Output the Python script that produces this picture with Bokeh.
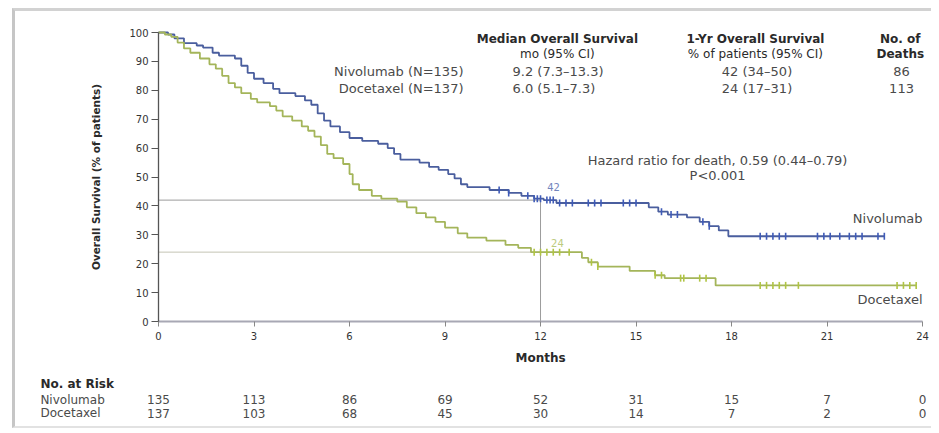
import numpy as np
from bokeh.plotting import figure
from bokeh.models import FixedTicker, Range1d
from bokeh.layouts import column
from bokeh.embed import file_html
from bokeh.resources import INLINE
from bokeh.core.properties import value

# ---------------- data ----------------
month_ticks = [0, 3, 6, 9, 12, 15, 18, 21, 24]
pct_ticks = [0, 10, 20, 30, 40, 50, 60, 70, 80, 90, 100]

nivo_t = [0, 0.3, 0.5, 0.8, 1.2, 1.4, 1.7, 1.9, 2.4, 2.6, 2.8, 3.0, 3.3, 3.6, 3.8, 4.3, 4.6, 4.8,
          5.0, 5.2, 5.4, 5.7, 6.0, 6.4, 6.9, 7.2, 7.4, 7.6, 8.2, 8.5, 8.8, 9.1, 9.3, 9.5, 9.7,
          10.4, 11.0, 11.4, 11.8, 12.1, 12.5, 15.4, 15.7, 16.0, 16.6, 17.0, 17.3, 17.6, 17.9]
nivo_s = [100, 99.3, 98, 96.3, 95.5, 94.8, 93, 92, 91, 88.5, 86, 84, 82.5, 80.5, 79, 78, 76.5, 75,
          72, 69.5, 67.5, 65.5, 63.5, 62.5, 61.5, 60, 58, 56, 55, 53.5, 52.5, 51, 49.5, 47.5, 46.5,
          45.5, 44.5, 43.5, 42.5, 42, 41, 39.5, 38, 37, 36, 34.5, 33, 31.5, 29.5]
nivo_end = 22.8

doce_t = [0, 0.2, 0.4, 0.6, 0.8, 1.0, 1.3, 1.6, 1.8, 2.0, 2.2, 2.4, 2.6, 2.9, 3.1, 3.5, 3.7, 3.9,
          4.2, 4.5, 4.7, 4.9, 5.1, 5.3, 5.5, 5.8, 6.0, 6.1, 6.3, 6.7, 7.0, 7.5, 7.8, 8.1, 8.4, 8.7,
          9.0, 9.4, 9.7, 10.3, 10.9, 11.3, 11.7, 13.3, 13.5, 13.8, 14.8, 15.6, 15.9, 17.5]
doce_s = [100, 99.3, 98.5, 96.5, 94.5, 93, 91, 89, 87.5, 85, 82.5, 81, 79, 77, 75.8, 74.5, 73, 71,
          69.5, 67.5, 66, 64, 61, 58, 56.5, 54.5, 51, 47.5, 45.5, 43.5, 42.5, 41.5, 39.5, 37.5, 36, 34.5,
          32.5, 30.5, 29, 28, 26.5, 25.5, 24, 22, 20.5, 19, 17.5, 16, 15, 12.5]
doce_end = 23.8

nivo_cens = [10.7, 11.0, 11.6, 11.8, 11.9, 12.0, 12.2, 12.3, 12.4, 12.6, 12.8, 13.0, 13.5, 13.7,
             13.9, 14.6, 14.8, 15.0, 15.8, 16.1, 16.3, 17.1, 17.3, 18.9, 19.1, 19.3, 19.5, 19.7,
             20.7, 20.9, 21.1, 21.4, 21.7, 21.9, 22.1, 22.6, 22.8]
doce_cens = [11.8, 12.0, 12.2, 12.4, 12.6, 12.9, 13.6, 13.8, 15.6, 15.8, 16.4, 16.5, 17.0, 17.2,
             18.9, 19.1, 19.3, 19.5, 19.7, 20.1, 23.2, 23.4, 23.6, 23.8]

landmark_month = 12
nivo_1yr = 42
doce_1yr = 24

risk_nivo = [135, 113, 86, 69, 52, 31, 15, 7, 0]
risk_doce = [137, 103, 68, 45, 30, 14, 7, 2, 0]

groups = ["Nivolumab (N=135)", "Docetaxel (N=137)"]
median_os = ["9.2 (7.3\u201313.3)", "6.0 (5.1\u20137.3)"]
one_yr_os = ["42 (34\u201350)", "24 (17\u201331)"]
deaths = ["86", "113"]
hr_text = ["Hazard ratio for death, 0.59 (0.44\u20130.79)", "P<0.001"]

# ---------------- style / layout ----------------
FONT = value("DejaVu Sans")
NIVO = "#4a5e9e"
NIVO_T = "#3f5bb8"
DOCE = "#a4b55a"
DOCE_T = "#b0c443"
TXT = "#2a2a2a"
TXT2 = "#4a4a4a"

W, H = 916, 415
X0_PX, Y0_PX = 143, 310     # canvas position of (0 months, 0 %)
PPM, PPP = 31.835, 2.89     # pixels per month, pixels per percent

def step_at(ts, ss, c):
    i = int(np.searchsorted(np.array(ts), c, side="right")) - 1
    return ss[i]

p = figure(width=W, height=H,
           x_range=Range1d(-X0_PX / PPM, (W - X0_PX) / PPM),
           y_range=Range1d(-(H - Y0_PX) / PPP, Y0_PX / PPP),
           output_backend="svg", toolbar_location=None,
           min_border_left=0, min_border_right=0, min_border_top=0, min_border_bottom=0)
p.outline_line_color = None
p.xgrid.visible = False
p.ygrid.visible = False

# reference lines at 1 year
p.line([0, landmark_month], [nivo_1yr, nivo_1yr], line_color="#9c9c9c", line_width=1)
p.line([0, landmark_month], [doce_1yr, doce_1yr], line_color="#c4c4b4", line_width=1)
p.line([landmark_month, landmark_month], [0, nivo_1yr], line_color="#9c9c9c", line_width=1)

# curves
p.step(nivo_t + [nivo_end], nivo_s + [nivo_s[-1]], mode="after", line_color=NIVO, line_width=1.8)
p.step(doce_t + [doce_end], doce_s + [doce_s[-1]], mode="after", line_color=DOCE, line_width=1.8)

p.scatter(nivo_cens, [step_at(nivo_t, nivo_s, c) for c in nivo_cens], marker="dash",
          angle=np.pi / 2, size=7, line_color=NIVO_T, line_width=1.6)
p.scatter(doce_cens, [step_at(doce_t, doce_s, c) for c in doce_cens], marker="dash",
          angle=np.pi / 2, size=7, line_color=DOCE_T, line_width=1.6)

# axes, pinned at the data origin
p.xaxis.fixed_location = 0
p.yaxis.fixed_location = 0
p.xaxis.ticker = FixedTicker(ticks=month_ticks)
p.yaxis.ticker = FixedTicker(ticks=pct_ticks)
p.xaxis.bounds = (0, 24)
p.yaxis.bounds = (0, 100)
for ax in (p.xaxis[0], p.yaxis[0]):
    ax.minor_tick_line_color = None
    ax.major_tick_in = 0
    ax.major_label_text_font = "DejaVu Sans"
    ax.major_label_text_font_size = "10px"
    ax.major_label_text_color = "#333333"
p.xaxis.axis_line_color = "#a8a8b4"
p.xaxis.axis_line_width = 2
p.xaxis.major_tick_line_color = "#888888"
p.xaxis.major_tick_out = 5
p.xaxis.major_label_standoff = 5
p.yaxis.axis_line_color = "#555555"
p.yaxis.axis_line_width = 1.3
p.yaxis.major_tick_line_color = "#555555"
p.yaxis.major_tick_out = 7
p.yaxis.major_label_standoff = 3

def tx(x, y, t, align="center", bold=False, color=TXT2, size="13px", angle=0):
    p.text(x=x, y=y, text=t, text_font=FONT, text_font_size=size, text_align=align,
           text_baseline="middle", text_color=color, angle=angle,
           text_font_style="bold" if bold else "normal")

# axis titles
tx([12], [-12.8], ["Months"], bold=True, color=TXT, size="12px")
tx([-1.95], [50], ["Overall Survival (% of patients)"], bold=True, color=TXT, size="10.5px",
   angle=np.pi / 2)

# header table
ROW_Y = [86.5, 80.6]
tx([12.53], [97.9], ["Median Overall Survival"], bold=True, color=TXT, size="12px")
tx([12.53], [92.4], ["mo (95% CI)"], color=TXT, size="12px")
tx([18.75], [97.9], ["1-Yr Overall Survival"], bold=True, color=TXT, size="12px")
tx([18.75], [92.4], ["% of patients (95% CI)"], color=TXT, size="12px")
tx([23.3, 23.3], [97.9, 92.4], ["No. of", "Deaths"], bold=True, color=TXT, size="12px")
tx([9.58, 9.58], ROW_Y, groups, align="right")
tx([11.12, 11.12], ROW_Y, median_os, align="left")
tx([18.8, 18.8], ROW_Y, one_yr_os)
tx([23.34, 23.34], ROW_Y, deaths)
tx([17.56, 17.56], [55.7, 50.6], hr_text)
tx([12.41], [46.6], [str(nivo_1yr)], color="#7385bd", size="10px")
tx([12.53], [27.3], [str(doce_1yr)], color="#bccb80", size="10px")
tx([24.0], [35.6], ["Nivolumab"], align="right")
tx([24.0], [7.6], ["Docetaxel"], align="right")

# at-risk table
RISK_HDR_Y, NIVO_Y, DOCE_Y = -21.5, -27.0, -31.8
LAB_X = -3.71
tx([LAB_X], [RISK_HDR_Y], ["No. at Risk"], align="left", bold=True, color=TXT, size="12px")
tx([LAB_X, LAB_X], [NIVO_Y, DOCE_Y], ["Nivolumab", "Docetaxel"], align="left", size="12px")
tx(month_ticks, [NIVO_Y] * len(month_ticks), [str(v) for v in risk_nivo], size="12px")
tx(month_ticks, [DOCE_Y] * len(month_ticks), [str(v) for v in risk_doce], size="12px")

layout = column(p, spacing=0,
                styles={"border-top": "3px solid #d2d2d2", "border-left": "3px solid #c6c6c6",
                        "border-bottom": "2px solid #e2e2e2", "margin-left": "12px",
                        "margin-top": "8px"})

open("out.html", "w").write(file_html(layout, INLINE))
